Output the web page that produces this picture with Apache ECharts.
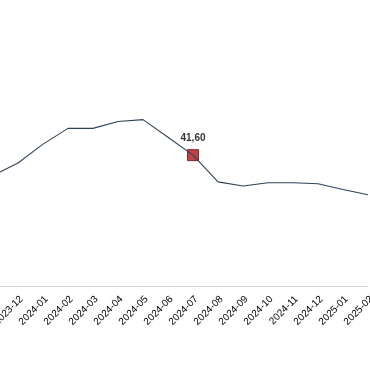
<!DOCTYPE html>
<html>
<head>
<meta charset="utf-8">
<script src="https://cdn.jsdelivr.net/npm/echarts@6/dist/echarts.min.js"></script>
<style>
html,body{margin:0;padding:0;width:370px;height:380px;overflow:hidden;background:#fff;position:relative;}
#c{position:absolute;left:-57px;top:0;width:470px;height:380px;}
</style>
</head>
<body>
<div id="c"></div>
<script>
var categories = ['2023-11','2023-12','2024-01','2024-02','2024-03','2024-04','2024-05','2024-06','2024-07','2024-08','2024-09','2024-10','2024-11','2024-12','2025-01','2025-02'];
var values = [35.1,39.1,45.1,50.1,50.1,52.3,52.9,47.3,41.6,33.1,31.8,32.8,32.8,32.5,30.7,29.0];
var highlightIndex = 8;

var highlight = values.map(function(v,i){ return i===highlightIndex ? v : null; });

var chart = echarts.init(document.getElementById('c'), null, {renderer:'canvas'});
chart.setOption({
  animation:false,
  backgroundColor:'#fff',
  grid:{left:50,right:45,top:40,bottom:94,containLabel:false},
  xAxis:{
    type:'category',
    data:categories,
    boundaryGap:false,
    axisLine:{lineStyle:{color:'#d6d6d6',width:1}},
    axisTick:{show:false},
    axisLabel:{rotate:45,color:'#000',fontSize:10,fontFamily:'Liberation Sans, Arial, sans-serif',margin:8,verticalAlign:'top',interval:0}
  },
  yAxis:{
    type:'value',min:0,max:78.2,
    show:false
  },
  series:[
    {type:'line',data:values,symbol:'none',lineStyle:{color:'#2f4256',width:1.1}},
    {type:'scatter',data:highlight,symbol:'rect',symbolSize:11,
     itemStyle:{color:'#ad141b',borderColor:'#6e0a0e',borderWidth:1},
     label:{show:true,position:'top',distance:6,color:'#000',fontSize:10,fontWeight:'bold',fontFamily:'Liberation Sans, Arial, sans-serif',
       formatter:function(p){return p.value==null?'':Number(p.value).toFixed(2).replace('.',',');}}}
  ]
});
</script>
</body>
</html>
